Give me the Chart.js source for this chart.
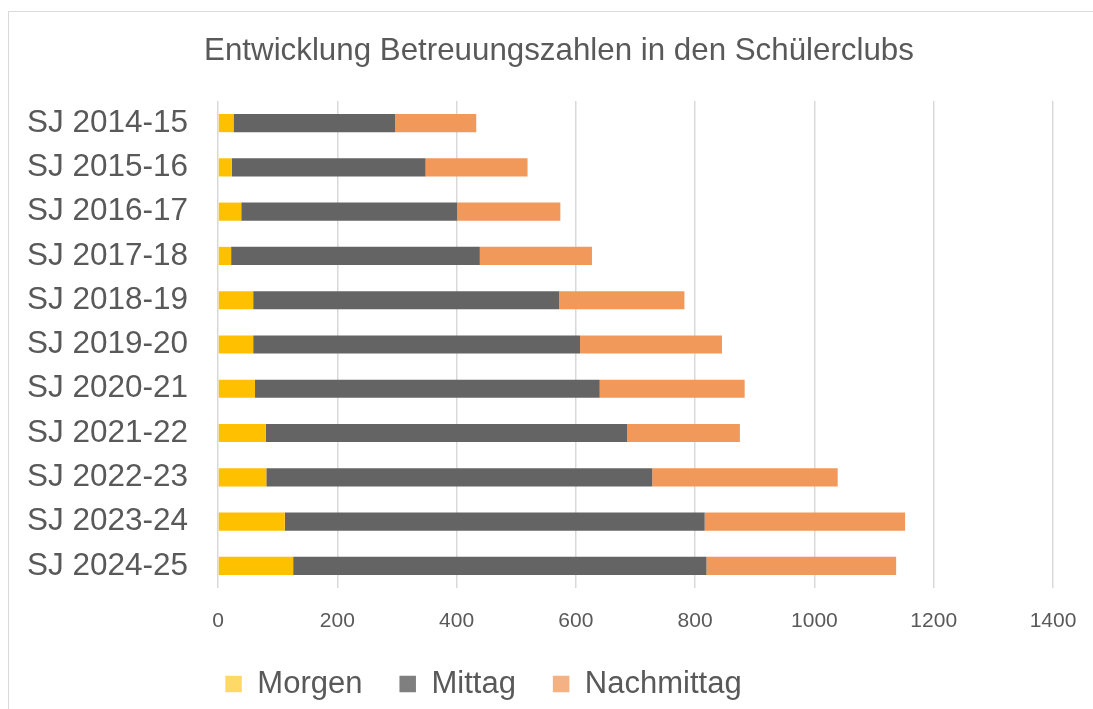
<!DOCTYPE html>
<html lang="de">
<head>
<meta charset="utf-8">
<title>Entwicklung Betreuungszahlen in den Schülerclubs</title>
<script src="https://cdn.jsdelivr.net/npm/chart.js@4"></script>
<style>
  html, body { margin: 0; padding: 0; background: #fff; }
  #wrap { position: relative; width: 1093px; height: 709px; overflow: hidden; }
  /* Rahmen des Diagrammbereichs wie in Excel */
  #frame { position: absolute; left: 8px; top: 11px; width: 1200px; height: 800px; border: 1px solid #d9d9d9; }
  #chart { position: absolute; left: 0; top: 0; }
</style>
</head>
<body>
<div id="wrap">
  <div id="frame"></div>
  <canvas id="chart" width="1093" height="709"></canvas>
</div>
<script>
// ── Daten ──
const schuljahre = ['SJ 2014-15', 'SJ 2015-16', 'SJ 2016-17', 'SJ 2017-18', 'SJ 2018-19', 'SJ 2019-20',
                    'SJ 2020-21', 'SJ 2021-22', 'SJ 2022-23', 'SJ 2023-24', 'SJ 2024-25'];
const morgen     = [26, 23, 39, 22, 59, 59, 62, 80, 81, 112, 126];
const mittag     = [271, 325, 362, 417, 513, 548, 578, 606, 647, 704, 693];
const nachmittag = [136, 171, 173, 188, 210, 238, 243, 189, 311, 336, 318];
const xTicks     = [0, 200, 400, 600, 800, 1000, 1200, 1400];

const FONT = '"Liberation Sans", Arial, sans-serif';
const GREY = '#595959';

// Legendenfarben sind im Original etwas heller als die Balken
const legendColors = ['#FFD966', '#7F7F7F', '#F4B183'];

// Titel und Legende wie im Original verschieben
const placeBlocks = {
  id: 'placeBlocks',
  afterLayout(chart) {
    const t = chart.titleBlock;
    if (t) { t.left = 0; t.right = 1118; t.width = 1118; }
    const l = chart.legend;
    if (l) {
      l.left = 0; l.right = 967; l.width = 967;
      l.top += 2; l.bottom += 2;
    }
  }
};

new Chart(document.getElementById('chart'), {
  type: 'bar',
  data: {
    labels: schuljahre,
    datasets: [
      { label: 'Morgen',     data: morgen,     backgroundColor: '#FFC000' },
      { label: 'Mittag',     data: mittag,     backgroundColor: '#646464' },
      { label: 'Nachmittag', data: nachmittag, backgroundColor: '#F1995B' },
    ],
  },
  options: {
    indexAxis: 'y',
    responsive: false,
    animation: false,
    datasets: { bar: { categoryPercentage: 1, barPercentage: 0.41, borderWidth: 0 } },
    layout: { padding: { left: 0, right: 40, top: 0, bottom: 1.5 } },
    plugins: {
      tooltip: { enabled: false },
      title: {
        display: true,
        text: 'Entwicklung Betreuungszahlen in den Schülerclubs',
        color: GREY,
        font: { family: FONT, size: 31.3, weight: 'normal', lineHeight: 1.2 },
        padding: { top: 32.7, bottom: 30.7 },
      },
      legend: {
        position: 'bottom',
        labels: {
          color: GREY,
          font: { family: FONT, size: 31 },
          boxWidth: 16.5,
          boxHeight: 16.5,
          padding: 37,
          generateLabels: chart => chart.data.datasets.map((ds, i) => ({
            text: ds.label,
            fillStyle: legendColors[i],
            strokeStyle: legendColors[i],
            lineWidth: 0,
            fontColor: GREY,
            hidden: false,
            datasetIndex: i,
          })),
        },
      },
    },
    scales: {
      x: {
        stacked: true,
        min: 0,
        max: 1400,
        afterBuildTicks: s => { s.ticks = xTicks.map(v => ({ value: v })); },
        afterFit: s => { s.height = 41.5; s.paddingLeft = 0; s.paddingRight = 0; },
        grid: { color: '#d9d9d9', lineWidth: 1.5, drawTicks: false },
        border: { display: false },
        ticks: { color: GREY, font: { family: FONT, size: 21 }, padding: 21, callback: v => String(v) },
      },
      y: {
        stacked: true,
        afterFit: s => { s.width = 218; },
        grid: { display: false, drawTicks: false },
        border: { display: false },
        ticks: { color: GREY, font: { family: FONT, size: 31.5 }, padding: 30 },
      },
    },
  },
  plugins: [placeBlocks],
});
</script>
</body>
</html>
